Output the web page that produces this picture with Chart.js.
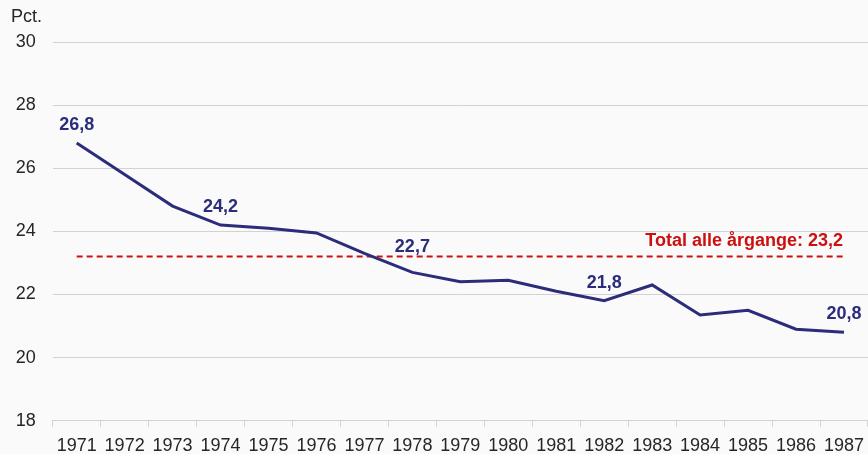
<!DOCTYPE html>
<html>
<head>
<meta charset="utf-8">
<script src="https://cdn.jsdelivr.net/npm/chart.js@4/dist/chart.umd.min.js"></script>
<style>
    html, body { margin: 0; padding: 0; background: #fafafa; }
    #wrap { width: 868px; height: 454px; }
</style>
</head>
<body>
<div id="wrap"><canvas id="andel-chart"></canvas></div>
<script>
const years = ["1971", "1972", "1973", "1974", "1975", "1976", "1977", "1978", "1979",
    "1980", "1981", "1982", "1983", "1984", "1985", "1986", "1987"];
const andel = [26.8, 25.8, 24.8, 24.2, 24.1, 23.95, 23.3, 22.7, 22.4,
    22.45, 22.1, 21.8, 22.3, 21.35, 21.5, 20.9, 20.8];
const total = 23.2;
const labelledYears = ["1971", "1974", "1978", "1982", "1987"];
const yTicks = [18, 20, 22, 24, 26, 28, 30];

const navy = "#2b2d7a";
const red = "#cc1010";
const textColor = "#262626";
const gridColor = "#d2d2d2";

const fmt = (v) => v.toFixed(1).replace(".", ",");

const labelPlugin = {
    id: "labels",
    afterDatasetsDraw(chart) {
        const ctx = chart.ctx;
        const meta = chart.getDatasetMeta(0);
        ctx.save();
        ctx.font = "bold 18px 'Liberation Sans', Arial, sans-serif";
        ctx.fillStyle = navy;
        ctx.textAlign = "center";
        ctx.textBaseline = "middle";
        labelledYears.forEach((yr) => {
            const i = years.indexOf(yr);
            const pt = meta.data[i];
            // 1978 label sits higher so it clears the dashed line
            const lift = yr === "1978" ? 25 : 18;
            ctx.fillText(fmt(andel[i]), pt.x, pt.y - lift);
        });

        const totalMeta = chart.getDatasetMeta(1);
        const last = totalMeta.data[totalMeta.data.length - 1];
        ctx.fillStyle = red;
        ctx.textAlign = "right";
        ctx.fillText("Total alle årgange: " + fmt(total), last.x - 1, last.y - 16);

        ctx.font = "18px 'Liberation Sans', Arial, sans-serif";
        ctx.fillStyle = textColor;
        ctx.textAlign = "left";
        ctx.fillText("Pct.", 11, 17);
        ctx.restore();
    },
};

new Chart(document.querySelector("#andel-chart"), {
    type: "line",
    data: {
        labels: years,
        datasets: [
            {
                data: andel,
                borderColor: navy,
                borderWidth: 3,
                pointRadius: 0,
                tension: 0,
            },
            {
                data: years.map(() => total),
                borderColor: red,
                borderWidth: 2,
                borderDash: [6, 4],
                pointRadius: 0,
            },
        ],
    },
    options: {
        responsive: true,
        maintainAspectRatio: false,
        animation: false,
        layout: { padding: { top: 42, right: 0, left: 0, bottom: 0 } },
        plugins: {
            legend: { display: false },
            tooltip: { enabled: false },
        },
        scales: {
            x: {
                offset: true,
                grid: {
                    offset: true,
                    drawOnChartArea: false,
                    color: gridColor,
                    tickLength: 6,
                },
                border: { color: gridColor },
                ticks: {
                    color: textColor,
                    font: { size: 18, lineHeight: 1.65, family: "'Liberation Sans', Arial, sans-serif" },
                    maxRotation: 0,
                    autoSkip: false,
                    padding: 4,
                },
                afterFit: (scale) => { scale.height = 33.3; },
            },
            y: {
                min: 18,
                max: 30,
                afterBuildTicks: (scale) => {
                    scale.ticks = yTicks.map((v) => ({ value: v }));
                },
                grid: { color: gridColor, drawTicks: false },
                border: { display: false },
                ticks: {
                    color: textColor,
                    font: { size: 18, family: "'Liberation Sans', Arial, sans-serif" },
                    padding: 17,
                },
                afterFit: (scale) => { scale.width = 52.7; },
            },
        },
    },
    plugins: [labelPlugin],
});
</script>
</body>
</html>
